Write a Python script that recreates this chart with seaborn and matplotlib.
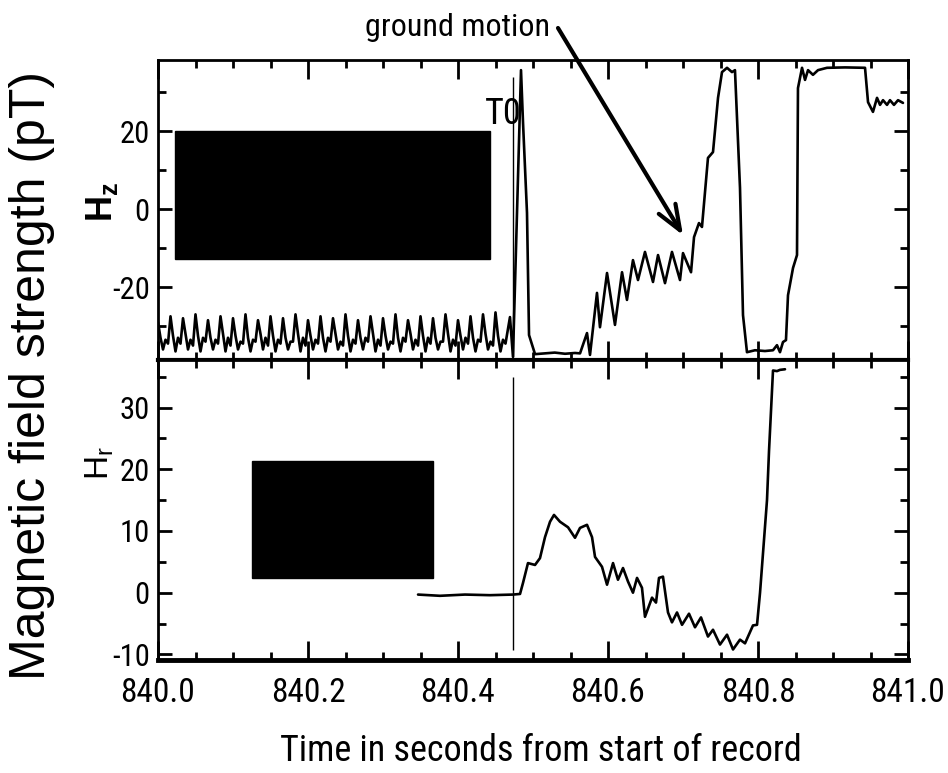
import numpy as np
import pandas as pd
import matplotlib
matplotlib.use("Agg")
import matplotlib.pyplot as plt
import seaborn as sns
from matplotlib import font_manager
from matplotlib.patches import Rectangle
from matplotlib.ticker import MultipleLocator, FixedLocator, FormatStrFormatter

sns.set_style("ticks")

# the scan uses Helvetica Narrow; take the closest narrow face that is installed
installed = {f.name for f in font_manager.fontManager.ttflist}
prefs = ['Nimbus Sans Narrow', 'Liberation Sans Narrow', 'Arial Narrow',
         'Roboto Condensed', 'Archivo Narrow', 'Barlow Semi Condensed']
narrow_name = next((n for n in prefs if n in installed), 'Liberation Sans')
narrow = font_manager.FontProperties(family=narrow_name)
regular_name = 'Nimbus Sans' if 'Nimbus Sans' in installed else 'Liberation Sans'

plt.rcParams['font.family'] = [regular_name, 'DejaVu Sans']
plt.rcParams['axes.unicode_minus'] = False
plt.rcParams['text.color'] = 'black'
plt.rcParams['mathtext.fontset'] = 'custom'
plt.rcParams['mathtext.rm'] = regular_name
plt.rcParams['mathtext.it'] = regular_name
plt.rcParams['mathtext.bf'] = regular_name + ':bold'

# --- data ---
t0 = 840.473  # trigger time T0

# 60 Hz hum before T0, sampled every 1/300 s starting at 840.0
hum_start = 840.0
hum_step = 1 / 300
hz_hum = [
    -29.0, -33.0, -36.0, -33.5, -34.5,  -27.5, -32.5, -36.5, -33.0, -34.5,
    -28.0, -32.0, -36.0, -33.5, -35.0,  -27.0, -32.5, -36.5, -33.0, -34.0,
    -28.5, -33.0, -36.0, -33.5, -34.5,  -27.5, -32.0, -36.5, -33.0, -35.0,
    -28.0, -32.5, -36.0, -34.0, -34.5,  -27.0, -33.0, -36.5, -33.5, -34.0,
    -28.5, -32.0, -36.0, -33.0, -35.0,  -27.5, -32.5, -36.5, -33.5, -34.5,
    -28.0, -33.0, -36.0, -34.0, -34.0,  -27.0, -32.0, -36.5, -33.0, -35.0,
    -28.5, -32.5, -36.0, -33.5, -34.5,  -27.5, -33.0, -36.5, -33.0, -34.0,
    -28.0, -32.0, -36.0, -34.0, -35.0,  -27.0, -32.5, -36.5, -33.5, -34.5,
    -28.5, -33.0, -36.0, -33.0, -34.0,  -27.5, -32.0, -36.5, -33.5, -35.0,
    -28.0, -32.5, -36.0, -34.0, -34.5,  -27.0, -33.0, -36.5, -33.0, -34.0,
    -28.5, -32.0, -36.0, -33.5, -35.0,  -27.5, -32.5, -36.5, -33.0, -34.5,
    -28.0, -33.0, -36.0, -34.0, -34.0,  -27.0, -32.0, -36.5, -33.5, -35.0,
    -28.5, -32.5, -36.0, -33.0, -34.5,  -27.5, -33.0, -36.5, -33.5, -34.0,
    -27.0, -32.0, -36.0, -34.0, -35.0,  -26.5, -32.5, -36.5, -33.5, -34.5,
]

# Hz after T0 (irregular breakpoints)
hz_post_t = [
    840.4693, 840.4733, 840.4840, 840.4867, 840.4920, 840.4947, 840.5027,
    840.5160, 840.5290, 840.5427, 840.5560, 840.5627, 840.5720, 840.5760,
    840.5853, 840.5893, 840.5987, 840.6093, 840.6187, 840.6253, 840.6333,
    840.6400, 840.6493, 840.6600, 840.6667, 840.6760, 840.6853, 840.6960,
    840.7000, 840.7107, 840.7147, 840.7213, 840.7253, 840.7333, 840.7400,
    840.7467, 840.7520, 840.7587, 840.7653, 840.7693, 840.7760, 840.7800,
    840.7853, 840.7960, 840.8093, 840.8200, 840.8253, 840.8293, 840.8333,
    840.8373, 840.8400, 840.8467, 840.8520, 840.8533, 840.8587, 840.8627,
    840.8667, 840.8733, 840.8800, 840.8920, 840.9160, 840.9427, 840.9467,
    840.9533, 840.9587, 840.9627, 840.9667, 840.9720, 840.9760, 840.9813,
    840.9867, 840.9933,
]
hz_post = [
    -27.7, -37.9, 35.6, 22.1, -1.0, -32.3, -37.2,
    -37.0, -36.8, -37.1, -36.9, -37.0, -31.8, -37.4,
    -21.5, -30.3, -16.4, -29.7, -16.2, -23.3, -13.1,
    -18.2, -11.0, -18.7, -11.8, -19.0, -11.0, -18.2,
    -11.3, -16.2, -7.2, -3.6, -4.6, 13.1, 14.6,
    28.5, 35.1, 36.2, 35.1, 35.6, 5.4, -27.2,
    -36.7, -36.2, -36.4, -36.2, -34.9, -36.7, -34.1,
    -33.6, -22.1, -15.1, -11.8, 31.0, 36.2, 33.1,
    35.6, 34.4, 35.6, 36.2, 36.3, 36.2, 27.4,
    24.9, 28.5, 26.7, 27.9, 26.7, 27.9, 26.7,
    27.9, 27.2,
]

# Hr
hr_t = [
    840.3467, 840.3760, 840.4093, 840.4427, 840.4733, 840.4827, 840.4867,
    840.4933, 840.5027, 840.5093, 840.5160, 840.5227, 840.5280, 840.5360,
    840.5467, 840.5560, 840.5627, 840.5720, 840.5787, 840.5827, 840.5920,
    840.5987, 840.6067, 840.6133, 840.6200, 840.6267, 840.6333, 840.6387,
    840.6453, 840.6493, 840.6587, 840.6640, 840.6680, 840.6733, 840.6800,
    840.6853, 840.6920, 840.6987, 840.7080, 840.7160, 840.7240, 840.7333,
    840.7400, 840.7493, 840.7587, 840.7667, 840.7760, 840.7827, 840.7933,
    840.7987, 840.8027, 840.8120, 840.8147, 840.8200, 840.8253, 840.8293,
    840.8360,
]
hr = [
    -0.3, -0.5, -0.3, -0.4, -0.3, -0.2, 1.6,
    4.8, 4.5, 5.6, 9.0, 11.5, 12.6, 11.5,
    10.6, 8.9, 10.5, 11.0, 9.0, 5.8, 4.2,
    1.3, 4.8, 2.1, 4.0, 1.8, 0.0, 2.4,
    0.8, -3.9, -0.8, -1.6, 2.4, 2.6, -3.2,
    -4.8, -3.2, -5.2, -3.4, -5.6, -4.0, -7.1,
    -6.0, -8.4, -6.8, -9.2, -7.6, -8.2, -5.3,
    -5.2, 0.0, 15.0, 23.0, 36.0, 35.9, 36.1,
    36.2,
]

# T0 marker extents and redaction boxes [t_left, t_right, y_bottom, y_top]
t0_span_top = [-37.9, 33.8]
t0_span_bot = [-9.3, 34.9]
box_top = [840.023, 840.443, -12.8, 20.0]
box_bot = [840.125, 840.367, 2.4, 21.4]
arrow_tip = (840.700, -6.7)

hum_t = hum_start + hum_step * np.arange(len(hz_hum))
df_hz = pd.DataFrame({'t': np.concatenate([hum_t, hz_post_t]),
                      'v': hz_hum + hz_post})
df_hr = pd.DataFrame({'t': hr_t, 'v': hr})

W, H = 948, 773
fig = plt.figure(figsize=(W / 100, H / 100), dpi=100)
ax1 = fig.add_axes([158 / W, 1 - 360 / H, 750 / W, 300 / H])
ax2 = fig.add_axes([158 / W, 1 - 660 / H, 750 / W, 300 / H], sharex=ax1)

sns.lineplot(data=df_hz, x='t', y='v', ax=ax1, color='black', lw=1.9,
             estimator=None, sort=False)
sns.lineplot(data=df_hr, x='t', y='v', ax=ax2, color='black', lw=1.9,
             estimator=None, sort=False)

ax1.vlines(t0, *t0_span_top, color='black', lw=1.0)
ax2.vlines(t0, *t0_span_bot, color='black', lw=1.0)

for ax, b in [(ax1, box_top), (ax2, box_bot)]:
    ax.add_patch(Rectangle((b[0], b[2]), b[1] - b[0], b[3] - b[2],
                           facecolor='black', edgecolor='black'))

ax1.set_xlim(840.0, 841.0)
ax1.set_ylim(-38.7, 38.2)
ax2.set_ylim(-10.9, 37.7)

ax1.xaxis.set_major_locator(MultipleLocator(0.2))
ax1.xaxis.set_minor_locator(MultipleLocator(0.05))
ax2.xaxis.set_major_formatter(FormatStrFormatter('%.1f'))
ax1.yaxis.set_major_locator(FixedLocator([-20, 0, 20]))
ax1.yaxis.set_minor_locator(MultipleLocator(10))
ax2.yaxis.set_major_locator(MultipleLocator(10))
ax2.yaxis.set_minor_locator(MultipleLocator(5))

for ax in (ax1, ax2):
    ax.tick_params(which='both', direction='in', top=True, right=True,
                   width=2, color='black', labelcolor='black')
    ax.tick_params(axis='x', which='major', length=14, pad=12)
    ax.tick_params(axis='x', which='minor', length=6)
    ax.tick_params(axis='y', which='major', length=10, pad=6)
    ax.tick_params(axis='y', which='minor', length=6)
    for lab in ax.get_xticklabels():
        lab.set_fontproperties(narrow)
        lab.set_fontsize(24)
    for lab in ax.get_yticklabels():
        lab.set_fontproperties(narrow)
        lab.set_fontsize(22)
    ax.set_xlabel('')
    ax.set_ylabel('')
    for s in ax.spines.values():
        s.set_linewidth(2)
        s.set_color('black')
ax1.tick_params(axis='x', labelbottom=False)
ax2.spines['bottom'].set_linewidth(3.5)
ax1.spines['bottom'].set_linewidth(3)

# annotations
ax1.text(840.46, 24.4, 'T0', ha='center', va='center', fontproperties=narrow, fontsize=26)
fig.text(458 / W, 1 - 28 / H, 'ground motion', ha='center', va='center',
         fontproperties=narrow, fontsize=23)
ax1.annotate('', xy=arrow_tip, xycoords='data', xytext=(558, H - 28),
             textcoords='figure pixels', annotation_clip=False,
             arrowprops=dict(arrowstyle='->,head_length=0.9,head_width=0.35',
                             lw=3, color='black', shrinkA=0, shrinkB=0,
                             mutation_scale=20))

fig.text(541 / W, 1 - 751 / H, 'Time in seconds from start of record',
         ha='center', va='center', fontproperties=narrow, fontsize=26)
fig.text(32 / W, 1 - 376 / H, 'Magnetic field strength (pT)', rotation=90,
         ha='center', va='center', fontsize=36)
fig.text(102 / W, 1 - 202 / H, r'$\mathbf{H_z}$', rotation=90,
         ha='center', va='center', fontsize=26)
fig.text(100 / W, 1 - 463 / H, r'$\mathrm{H_r}$', rotation=90,
         ha='center', va='center', fontsize=24)

fig.savefig('out.png', dpi=100)
